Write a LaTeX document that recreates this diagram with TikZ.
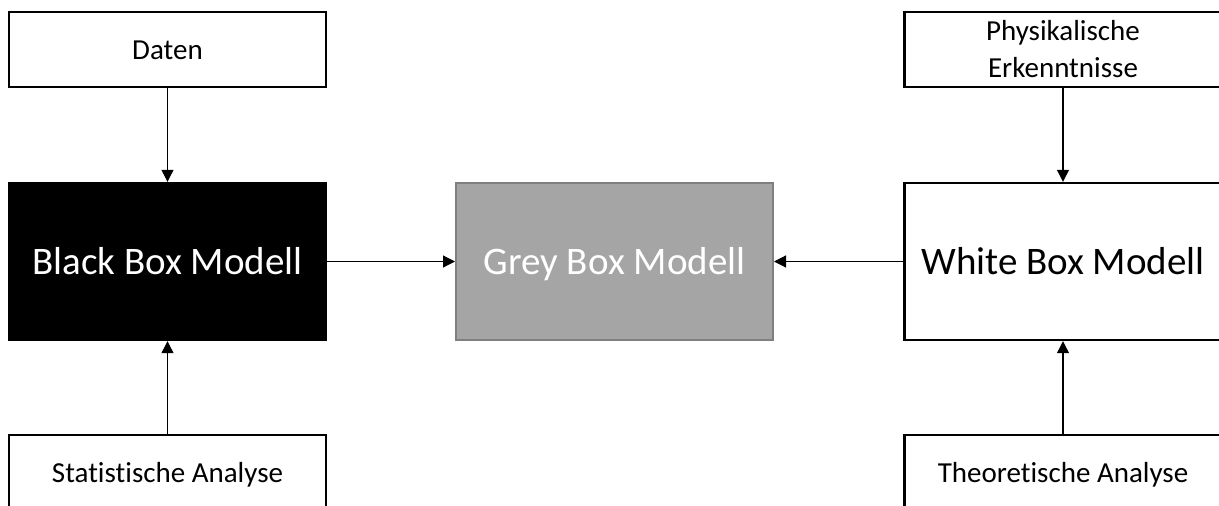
\documentclass[tikz,border=0pt]{standalone}
\usepackage{fontspec}
\setmainfont{Carlito}[Ligatures=NoCommon]
\usetikzlibrary{arrows.meta}
\definecolor{greyfill}{HTML}{A5A5A5}
\definecolor{greyedge}{HTML}{7F7F7F}
\begin{document}
\begin{tikzpicture}[x=1pt,y=-1pt,
  box/.style={draw=black,line width=2.4pt,minimum width=317pt,inner sep=0pt,align=center},
  small/.style={box,fill=white,font=\fontsize{29}{37}\selectfont,minimum height=75.5pt},
  oneline/.style={text height=19pt,text depth=0pt},
  model/.style={box,minimum height=157pt,font=\fontsize{39}{46}\selectfont,text height=25pt,text depth=0pt},
  link/.style={line width=1.2pt,-{Triangle[length=12pt,width=12pt]}}]
\useasboundingbox (0,0) rectangle (1219,506);
\clip (0,0) rectangle (1219,506);

% left column: data-driven model
\node[small,oneline] (daten) at (167.5,49.5) {Daten};
\node[model,fill=black,text=white] (black) at (167.5,261.5) {Black Box Modell};
\node[small,oneline,minimum height=76pt] (stat) at (167.5,473) {Statistische Analyse};

% centre: hybrid model
\node[model,fill=greyfill,draw=greyedge,line width=2pt,text=white] (grey) at (614.5,261.5) {Grey Box Modell};

% right column: physics-based model
\node[small] (phys) at (1063,49.5) {Physikalische\\Erkenntnisse};
\node[model,fill=white] (white) at (1063,261.5) {White Box Modell};
\node[small,oneline,minimum height=76pt] (theo) at (1063,473) {Theoretische Analyse};

% connectors
\draw[link] (daten.south) -- (black.north);
\draw[link] (stat.north) -- (black.south);
\draw[link] (black.east) -- (grey.west);
\draw[link] (white.west) -- (grey.east);
\draw[link] (phys.south) -- (white.north);
\draw[link] (theo.north) -- (white.south);
\end{tikzpicture}
\end{document}
